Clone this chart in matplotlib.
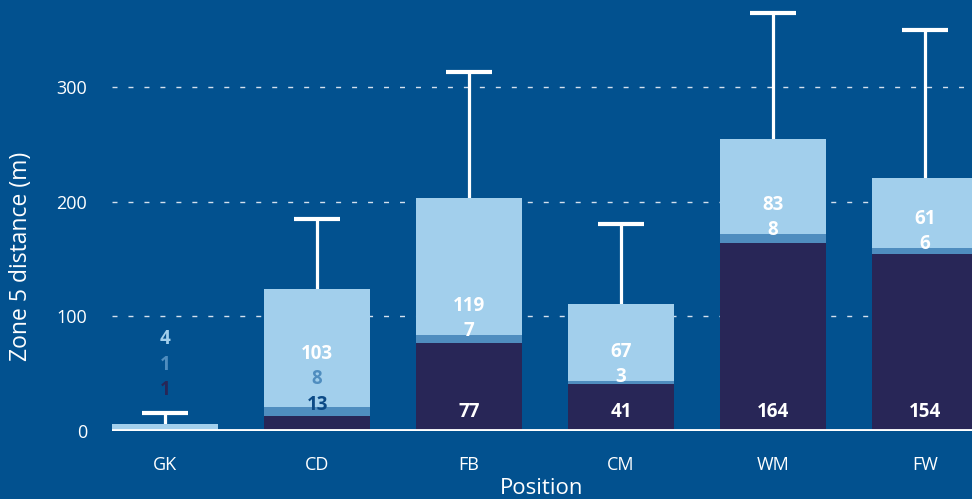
import matplotlib.pyplot as plt
import numpy as np

plt.rcParams['font.family'] = ['Open Sans', 'DejaVu Sans']

positions = ['GK', 'CD', 'FB', 'CM', 'WM', 'FW']
dark_vals = [1, 13, 77, 41, 164, 154]
mid_vals = [1, 8, 7, 3, 8, 6]
light_vals = [4, 103, 119, 67, 83, 61]
err_top = [16, 185, 313, 181, 365, 350]

BG = '#02518f'
DARK = '#282657'
MID = '#4f8dbf'
LIGHT = '#a2cfec'

fig = plt.figure(figsize=(9.72, 4.99), dpi=100, facecolor=BG)
ax = fig.add_axes([0.1152, 0.1363, 0.8848, 0.8637], facecolor=BG)

x = np.arange(len(positions))
dark = np.array(dark_vals)
mid = np.array(mid_vals)
light = np.array(light_vals)
total = dark + mid + light
w = 0.70

ax.bar(x, dark, w, color=DARK, zorder=3)
ax.bar(x, mid, w, bottom=dark, color=MID, zorder=3)
ax.bar(x, light, w, bottom=dark + mid, color=LIGHT, zorder=3)

# upper error bars only
eb = ax.errorbar(x, total, yerr=[np.zeros(len(x)), np.array(err_top) - total],
                 fmt='none', ecolor='white', elinewidth=2.3, capsize=16.5,
                 capthick=3, zorder=2)
eb[1][0].set_visible(False)  # hide lower caps

for yv in [100, 200, 300]:
    ax.axhline(yv, color='#d4e0ee', lw=1, dashes=(3.6, 7.9), zorder=1)
ax.axhline(0, color='white', lw=3.5, zorder=4)

fs = 13.5
for i in range(len(x)):
    if dark[i] > 30:
        ax.text(x[i], 17, str(dark[i]), ha='center', va='center', color='white',
                fontsize=fs, fontweight='bold', zorder=5)
        ym = dark[i] + mid[i] + 3
        ax.text(x[i], ym, str(mid[i]), ha='center', va='center', color='white',
                fontsize=fs, fontweight='bold', zorder=5)
        ax.text(x[i], ym + 22, str(light[i]), ha='center', va='center', color='white',
                fontsize=fs, fontweight='bold', zorder=5)
    else:
        base = err_top[i] + 20 if total[i] < 20 else 23
        if total[i] < 20:
            cols = [DARK, MID, LIGHT]
        else:
            cols = ['#0c4a86', MID, 'white']
        for k, v in enumerate([dark[i], mid[i], light[i]]):
            ax.text(x[i], base + 22 * k, str(v), ha='center', va='center', color=cols[k],
                    fontsize=fs, fontweight='bold', zorder=5)

ax.set_xlim(-0.35, 5.31)
ax.set_ylim(0, 376)
ax.set_yticks([0, 100, 200, 300])
ax.set_xticks(x)
ax.set_xticklabels(positions)
ax.tick_params(length=0, colors='white', labelsize=13)
ax.tick_params(axis='x', pad=18)
ax.tick_params(axis='y', pad=18)
for s in ax.spines.values():
    s.set_visible(False)

ax.set_xlabel('Position', color='white', fontsize=16)
ax.xaxis.set_label_coords(0.5, -0.109)
ax.set_ylabel('Zone 5 distance (m)', color='white', fontsize=16.5)
ax.yaxis.set_label_coords(-0.092, 0.405)

fig.savefig('out.png', dpi=100, facecolor=BG)
